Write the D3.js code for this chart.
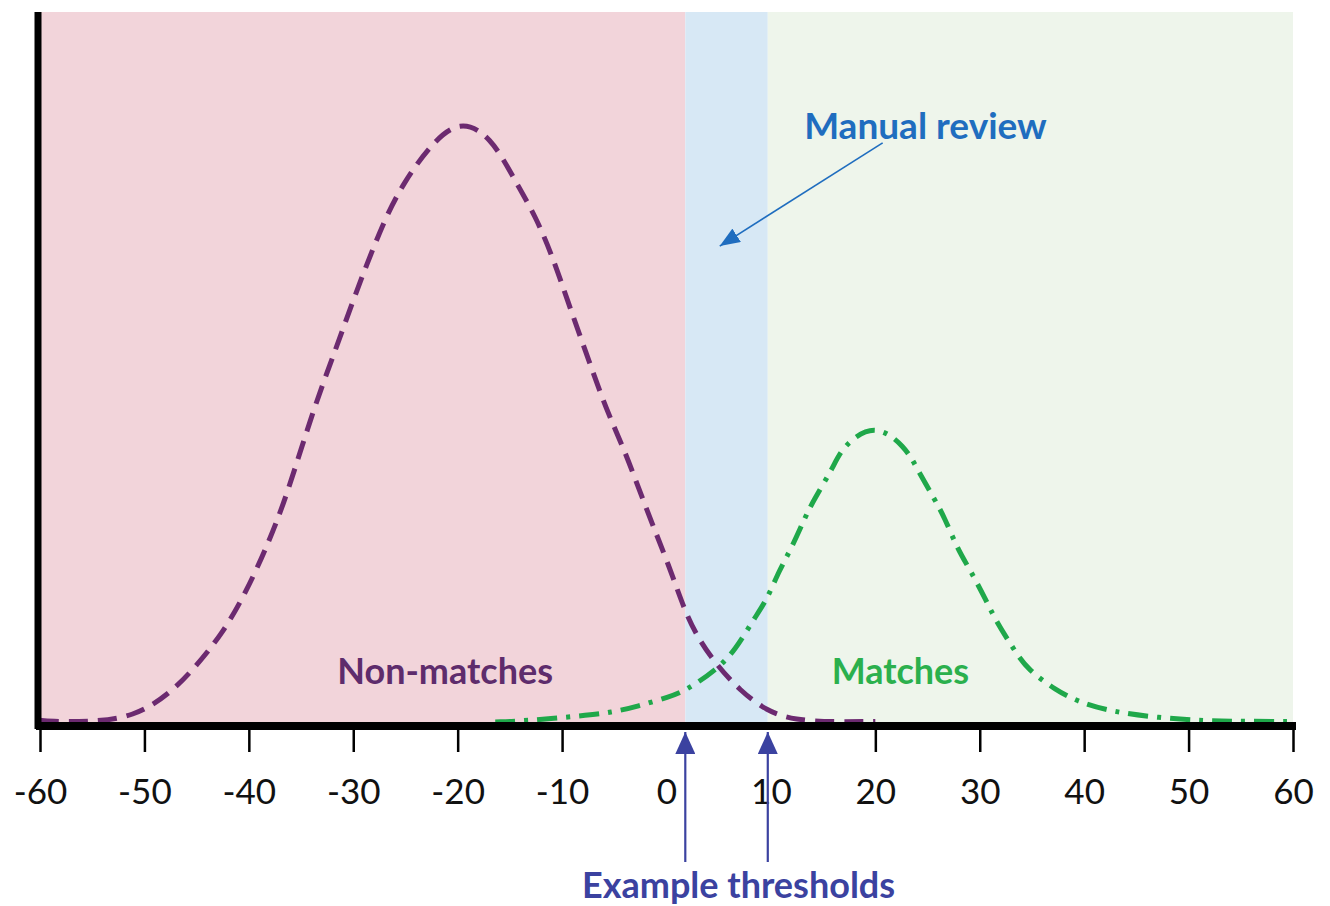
<!DOCTYPE html>
<html>
<head>
<meta charset="utf-8">
<script src="https://cdn.jsdelivr.net/npm/d3@7"></script>
<style>
  html, body { margin: 0; padding: 0; background: #ffffff; }
  svg { display: block; }
  text { font-family: Lato, "Open Sans", sans-serif; }
</style>
</head>
<body>
<svg id="chart" width="1330" height="906"></svg>
<script>
// ---------------- data ----------------
const xTicks = [-60, -50, -40, -30, -20, -10, 0, 10, 20, 30, 40, 50, 60];
const thresholds = [1.8, 9.7];

const nonMatchX = [-60, -59.1, -55.3, -51.0, -47.5, -45.1, -42.5, -40.3, -38.2, -36.4, -33.9, -31.7, -30.0, -28.8, -27.0, -25.3, -22.7, -19.8, -16.8, -14.7, -12.5, -10.8, -9.5, -7.8, -5.7, -4.0, -1.9, 0.3, 1.7, 3.0, 4.8, 7.0, 9.6, 12.3, 16.0, 20.0];
const nonMatchY = [0.3, 0.1, 0, 0.8, 4.8, 9.2, 14.8, 21.5, 29.5, 37.5, 51.7, 62.0, 70.3, 75.8, 83.7, 89.5, 96.0, 100.5, 97.5, 90.8, 84.2, 77.0, 70.3, 62.0, 51.7, 45.3, 35.3, 25.8, 18.7, 14.0, 9.5, 5.3, 1.8, 0.3, 0, 0.1];

const matchX = [-16.4, -13.4, -8.3, -5.2, -2.8, 0.3, 1.9, 4.8, 6.6, 8.3, 9.6, 10.8, 11.9, 13.3, 14.1, 16.0, 16.8, 19.9, 22.9, 23.9, 25.7, 26.6, 27.9, 29.1, 30.6, 31.5, 33.3, 34.6, 37.3, 39.5, 42.7, 47.1, 51.6, 55.0, 60.0];
const matchY = [0, 0.2, 1.0, 1.6, 2.6, 4.2, 5.3, 8.7, 12.0, 17.0, 20.3, 25.3, 28.7, 34.2, 37.0, 42.5, 45.8, 50.0, 45.8, 42.5, 37.0, 34.2, 28.7, 25.3, 20.3, 17.0, 12.0, 8.7, 5.3, 3.3, 1.7, 0.7, 0.2, 0.1, 0.1];

const regionLabels = ["Non-matches", "Matches"];
const reviewLabel = "Manual review";
const thresholdLabel = "Example thresholds";

// ---------------- layout ----------------
const svg = d3.select("#chart");
const yTop = 118.3;
const x = d3.scaleLinear().domain([-60, 60]).range([40, 1293]);
const y = d3.scaleLinear().domain([0, yTop]).range([722, 12]);
const axisY = 726;

// backgrounds
const bands = [
  { from: -60, to: thresholds[0], fill: "#f2d4da" },
  { from: thresholds[0], to: thresholds[1], fill: "#d7e8f5" },
  { from: thresholds[1], to: 60, fill: "#eef5eb" }
];
svg.append("g").selectAll("rect").data(bands).join("rect")
  .attr("x", d => x(d.from))
  .attr("width", d => x(d.to) - x(d.from))
  .attr("y", y(yTop))
  .attr("height", axisY - y(yTop))
  .attr("fill", d => d.fill);

// curves
const line = d3.line().x(d => x(d[0])).y(d => y(d[1])).curve(d3.curveBasis);
svg.append("path")
  .datum(d3.zip(nonMatchX, nonMatchY))
  .attr("d", line)
  .attr("fill", "none")
  .attr("stroke", "#6c2a70")
  .attr("stroke-width", 5)
  .attr("stroke-dasharray", "19 10");

svg.append("path")
  .datum(d3.zip(matchX, matchY))
  .attr("d", line)
  .attr("fill", "none")
  .attr("stroke", "#1fa84a")
  .attr("stroke-width", 5)
  .attr("stroke-dasharray", "20 9 4 9");

// x axis
const xAxis = d3.axisBottom(x).tickValues(xTicks).tickSize(26).tickSizeOuter(0).tickFormat(d => String(d));
const gx = svg.append("g").attr("transform", `translate(0,${axisY})`).call(xAxis);
gx.select(".domain").attr("stroke", "#000").attr("stroke-width", 8)
  .attr("d", `M${x(-60) - 4},0H${x(60) + 3}`);
gx.selectAll(".tick line").attr("stroke", "#000").attr("stroke-width", 2.5)
  .attr("y1", 3)
  .attr("display", d => (d === 0 || d === 10) ? "none" : null);
gx.selectAll(".tick text")
  .attr("y", 66).attr("dy", "0.35em")
  .attr("font-size", 35)
  .attr("font-family", "Lato, sans-serif")
  .attr("fill", "#111");

// y axis (plain vertical line)
svg.append("line")
  .attr("x1", x(-60) - 2).attr("x2", x(-60) - 2)
  .attr("y1", y(yTop)).attr("y2", axisY + 3)
  .attr("stroke", "#000").attr("stroke-width", 7);

// labels
svg.append("text").text(regionLabels[0])
  .attr("x", x(-21.2)).attr("y", 684)
  .attr("text-anchor", "middle").attr("font-size", 36).attr("font-weight", 700)
  .attr("fill", "#5e2c6c");
svg.append("text").text(regionLabels[1])
  .attr("x", x(22.4)).attr("y", 684)
  .attr("text-anchor", "middle").attr("font-size", 36).attr("font-weight", 700)
  .attr("fill", "#2bb04d");
svg.append("text").text(reviewLabel)
  .attr("x", x(24.8)).attr("y", 139)
  .attr("text-anchor", "middle").attr("font-size", 37).attr("font-weight", 700)
  .attr("fill", "#1f6dbf");
svg.append("text").text(thresholdLabel)
  .attr("x", x(6.9)).attr("y", 898)
  .attr("text-anchor", "middle").attr("font-size", 36).attr("font-weight", 700)
  .attr("fill", "#3b42a0");

// markers
const defs = svg.append("defs");
defs.append("marker").attr("id", "blueHead")
  .attr("viewBox", "0 0 20 16").attr("refX", 20).attr("refY", 8)
  .attr("markerWidth", 20).attr("markerHeight", 16)
  .attr("markerUnits", "userSpaceOnUse").attr("orient", "auto")
  .append("path").attr("d", "M0,0L20,8L0,16Z").attr("fill", "#1f6dbf");
defs.append("marker").attr("id", "navyHead")
  .attr("viewBox", "0 0 22 20").attr("refX", 22).attr("refY", 10)
  .attr("markerWidth", 22).attr("markerHeight", 20)
  .attr("markerUnits", "userSpaceOnUse").attr("orient", "auto")
  .append("path").attr("d", "M0,0L22,10L0,20Z").attr("fill", "#3b42a0");

// manual review arrow (data coords)
const reviewArrow = { from: [20.7, 96.5], to: [5.1, 79.3] };
svg.append("line")
  .attr("x1", x(reviewArrow.from[0])).attr("y1", y(reviewArrow.from[1]))
  .attr("x2", x(reviewArrow.to[0])).attr("y2", y(reviewArrow.to[1]))
  .attr("stroke", "#1f6dbf").attr("stroke-width", 1.6)
  .attr("marker-end", "url(#blueHead)");

// threshold arrows
svg.append("g").selectAll("line").data(thresholds).join("line")
  .attr("x1", d => x(d)).attr("x2", d => x(d))
  .attr("y1", 862).attr("y2", axisY + 6)
  .attr("stroke", "#3b42a0").attr("stroke-width", 2.2)
  .attr("marker-end", "url(#navyHead)");
</script>
</body>
</html>
